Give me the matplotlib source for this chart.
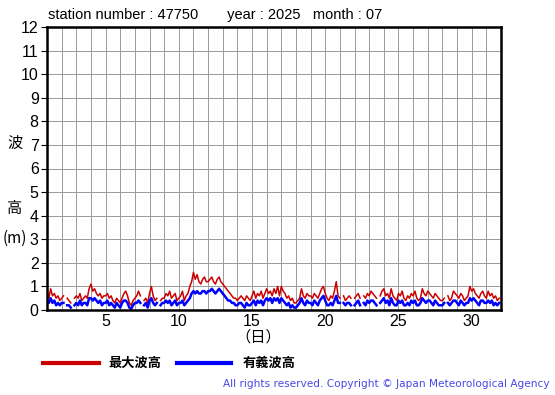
import numpy as np
import matplotlib
matplotlib.use('Agg')
import matplotlib.pyplot as plt
from matplotlib.ticker import MultipleLocator

plt.rcParams['font.family'] = ['Liberation Sans', 'DejaVu Sans']

station = '47750'
year = '2025'
month = '07'

# 3-hourly readings, 8 per day, days 1..31 (None = missing)
max_wave = [
    0.8, 0.5, 0.9, 0.6, 0.7, 0.5, 0.6, 0.4,
    0.5, 0.6, None, 0.5, 0.4, 0.3, None, 0.5,
    0.6, 0.5, 0.7, 0.4, 0.5, 0.6, 0.5, 0.9,
    1.1, 0.8, 0.9, 0.7, 0.6, 0.7, 0.5, 0.6,
    0.6, 0.7, 0.5, 0.6, 0.4, 0.3, 0.5, 0.4,
    0.3, 0.5, 0.7, 0.8, 0.6, 0.3, 0.2, 0.4,
    0.5, 0.6, 0.8, 0.6, None, 0.4, 0.5, 0.3,
    0.7, 1.0, 0.6, 0.4, 0.5, None, 0.4, 0.5,
    0.5, 0.7, 0.6, 0.8, 0.5, 0.6, 0.7, 0.4,
    0.5, 0.6, 0.8, 0.4, 0.6, 0.7, 1.0, 1.2,
    1.6, 1.3, 1.5, 1.2, 1.1, 1.3, 1.4, 1.2,
    1.2, 1.3, 1.4, 1.2, 1.1, 1.3, 1.4, 1.2,
    1.1, 1.0, 0.9, 0.8, 0.7, 0.6, 0.5, 0.5,
    0.4, 0.5, 0.6, 0.5, 0.4, 0.6, 0.5, 0.4,
    0.6, 0.8, 0.5, 0.7, 0.6, 0.8, 0.5, 0.7,
    0.9, 0.7, 0.8, 0.6, 0.9, 0.7, 1.0, 0.6,
    1.0, 0.8, 0.7, 0.5, 0.6, 0.4, 0.5, 0.3,
    0.3, 0.4, 0.5, 0.9, 0.6, 0.5, 0.7, 0.6,
    0.6, 0.5, 0.7, 0.6, 0.5, 0.7, 0.9, 1.0,
    0.7, 0.5, 0.4, 0.6, 0.5, 0.8, 1.2, 0.6,
    0.5, None, 0.6, 0.4, 0.5, 0.6, 0.5, None,
    0.5, 0.6, 0.7, 0.5, None, 0.6, 0.5, 0.7,
    0.6, 0.8, 0.7, 0.6, 0.5, None, 0.6, 0.8,
    0.9, 0.6, 0.7, 0.5, 0.9, 0.6, 0.5, 0.4,
    0.7, 0.6, 0.8, 0.5, 0.4, 0.6, 0.5, 0.7,
    0.6, 0.8, 0.5, 0.4, 0.5, 0.9, 0.7, 0.6,
    0.8, 0.7, 0.6, 0.5, 0.7, 0.6, 0.5, 0.4,
    0.4, 0.5, None, 0.6, 0.4, 0.5, 0.8, 0.7,
    0.6, 0.5, 0.7, 0.6, 0.4, 0.5, 0.6, 1.0,
    0.8, 0.9, 0.7, 0.6, 0.5, 0.7, 0.8, 0.6,
    0.5, 0.8, 0.6, 0.7, 0.5, 0.6, 0.4, 0.5,
]

sig_wave = [
    0.4, 0.3, 0.5, 0.3, 0.4, 0.2, 0.3, 0.2,
    0.3, 0.3, None, 0.2, 0.2, 0.1, None, 0.2,
    0.3, 0.2, 0.4, 0.2, 0.3, 0.3, 0.2, 0.5,
    0.5, 0.4, 0.5, 0.4, 0.3, 0.4, 0.2, 0.3,
    0.3, 0.4, 0.2, 0.3, 0.2, 0.1, 0.3, 0.2,
    0.1, 0.3, 0.4, 0.4, 0.3, 0.1, 0.05, 0.2,
    0.3, 0.3, 0.4, 0.3, None, 0.2, 0.3, 0.1,
    0.4, 0.5, 0.3, 0.2, 0.3, None, 0.2, 0.3,
    0.3, 0.4, 0.3, 0.4, 0.2, 0.3, 0.4, 0.2,
    0.3, 0.3, 0.4, 0.2, 0.3, 0.4, 0.5, 0.7,
    0.8, 0.7, 0.8, 0.7, 0.7, 0.8, 0.8, 0.7,
    0.8, 0.8, 0.9, 0.8, 0.7, 0.8, 0.9, 0.8,
    0.7, 0.6, 0.5, 0.4, 0.4, 0.3, 0.3, 0.2,
    0.2, 0.3, 0.3, 0.2, 0.1, 0.3, 0.2, 0.2,
    0.3, 0.4, 0.2, 0.4, 0.3, 0.4, 0.2, 0.4,
    0.5, 0.4, 0.5, 0.3, 0.5, 0.4, 0.5, 0.3,
    0.5, 0.4, 0.3, 0.2, 0.3, 0.1, 0.2, 0.1,
    0.1, 0.2, 0.3, 0.5, 0.3, 0.2, 0.4, 0.3,
    0.3, 0.2, 0.4, 0.3, 0.2, 0.4, 0.5, 0.6,
    0.4, 0.2, 0.2, 0.3, 0.2, 0.4, 0.6, 0.3,
    0.3, None, 0.3, 0.2, 0.3, 0.3, 0.2, None,
    0.2, 0.3, 0.4, 0.2, None, 0.3, 0.2, 0.4,
    0.3, 0.4, 0.4, 0.3, 0.2, None, 0.3, 0.4,
    0.5, 0.3, 0.4, 0.2, 0.5, 0.3, 0.2, 0.2,
    0.4, 0.3, 0.4, 0.2, 0.2, 0.3, 0.2, 0.4,
    0.3, 0.4, 0.2, 0.2, 0.3, 0.5, 0.4, 0.3,
    0.4, 0.4, 0.3, 0.2, 0.4, 0.3, 0.2, 0.2,
    0.2, 0.3, None, 0.3, 0.2, 0.3, 0.4, 0.4,
    0.3, 0.2, 0.4, 0.3, 0.2, 0.3, 0.3, 0.5,
    0.4, 0.5, 0.4, 0.3, 0.2, 0.4, 0.4, 0.3,
    0.3, 0.4, 0.3, 0.4, 0.2, 0.3, 0.2, 0.3,
]

x_ticks = [5, 10, 15, 20, 25, 30]

mx = np.array([np.nan if v is None else v for v in max_wave])
sg = np.array([np.nan if v is None else v for v in sig_wave])
t = 1 + np.arange(len(mx)) * 3 / 24.0

fig = plt.figure(figsize=(5.55, 3.95), dpi=100)
ax = fig.add_axes([47 / 555, 1 - 310 / 395, 454 / 555, 283 / 395])

ax.plot(t, mx, color='#cc0000', lw=1.1)
ax.plot(t, sg, color='#0000ff', lw=1.8)

ax.set_xlim(1, 32)
ax.set_ylim(0, 12)
ax.set_xticks(x_ticks)
ax.xaxis.set_minor_locator(MultipleLocator(1))
ax.yaxis.set_major_locator(MultipleLocator(1))
ax.grid(which='both', color='#9a9a9a', lw=0.7)
ax.tick_params(which='both', length=0, labelsize=11.5, pad=3)
ax.tick_params(axis='y', length=4, direction='out', pad=2)
for s in ax.spines.values():
    s.set_linewidth(1.8)
    s.set_color('black')

fig.text(48 / 555, 1 - 15 / 395, 'station number : %s       year : %s   month : %s' % (station, year, month),
         fontsize=10.5, va='center', ha='left')

cjk = ['Noto Sans CJK JP', 'DejaVu Sans']
fig.text(15 / 555, 1 - 143 / 395, '波', family=cjk, fontsize=11, ha='center', va='center')
fig.text(15 / 555, 1 - 208 / 395, '高', family=cjk, fontsize=11, ha='center', va='center')
fig.text(15 / 555, 1 - 238 / 395, '(m)', family=cjk, fontsize=11, ha='center', va='center')
fig.text(258 / 555, 1 - 337 / 395, '（日）', family=cjk, fontsize=11, ha='center', va='center')

# legend
fig.add_artist(plt.Line2D([43 / 555, 99 / 555], [1 - 363 / 395] * 2, color='#cc0000', lw=3))
fig.text(108 / 555, 1 - 363 / 395, '最大波高', family=cjk, fontsize=9.5, weight='bold', va='center')
fig.add_artist(plt.Line2D([177 / 555, 231 / 555], [1 - 363 / 395] * 2, color='#0000ff', lw=3))
fig.text(243 / 555, 1 - 363 / 395, '有義波高', family=cjk, fontsize=9.5, weight='bold', va='center')

fig.text(550 / 555, 1 - 384 / 395, 'All rights reserved. Copyright © Japan Meteorological Agency',
         fontsize=7.6, color='#4848e8', ha='right', va='center', family=['DejaVu Sans'])

fig.savefig('out.png', dpi=100)
